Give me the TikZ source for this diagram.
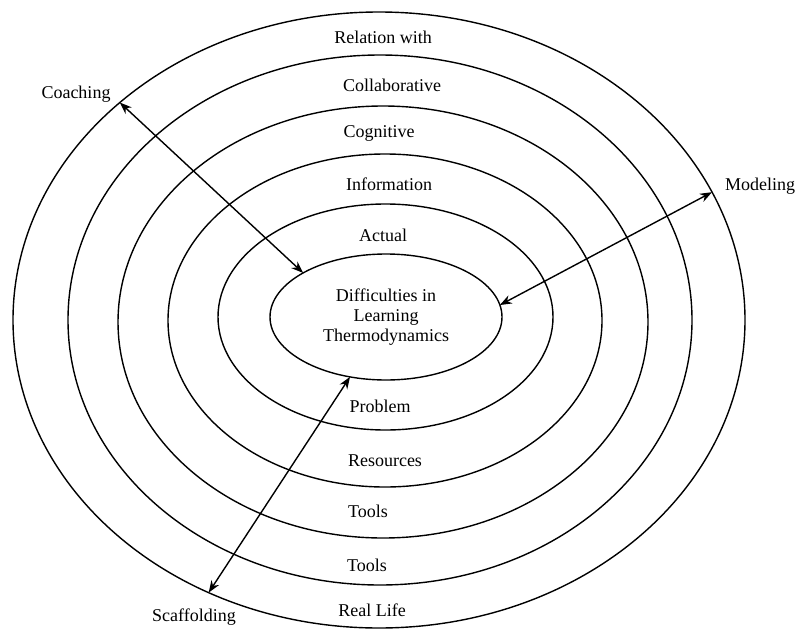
\documentclass[tikz,border=0pt]{standalone}
\usepackage{fontspec}
\setmainfont{Liberation Serif}
\usetikzlibrary{shapes.geometric,arrows.meta}
\begin{document}
\begin{tikzpicture}[x=1pt,y=-1pt,
  ring/.style={draw, ellipse, line width=1.4pt, inner sep=0pt, outer sep=0pt},
  lbl/.style={font=\fontsize{18}{20}\selectfont, inner sep=0pt},
  dbl/.style={line width=1.4pt, {Stealth[length=12pt,width=9pt]}-{Stealth[length=12pt,width=9pt]}}]
\useasboundingbox (0,0) rectangle (797,629);
\node[ring, minimum width=732pt, minimum height=616pt] (e6) at (379,320) {};
\node[ring, minimum width=624pt, minimum height=530pt] (e5) at (380,320) {};
\node[ring, minimum width=530pt, minimum height=432pt] (e4) at (383,322) {};
\node[ring, minimum width=434pt, minimum height=333pt] (e3) at (385,320.5) {};
\node[ring, minimum width=335pt, minimum height=226pt] (e2) at (385.5,317) {};
\node[ring, minimum width=232pt, minimum height=126pt, align=center,
      font=\fontsize{18}{20}\selectfont] (e1) at (386,317) {Difficulties in\\Learning\\Thermodynamics};
% ring labels
\node[lbl] (t1) at (383,37) {Relation with};
\node[lbl] (t2) at (392,85) {Collaborative};
\node[lbl] (t3) at (379,133) {Cognitive};
\node[lbl] (t4) at (389,184) {Information};
\node[lbl] (t5) at (383,235) {Actual};
\node[lbl] (b1) at (380,406) {Problem};
\node[lbl] (b2) at (385,461) {Resources};
\node[lbl] (b3) at (368,511) {Tools};
\node[lbl] (b4) at (367,565) {Tools};
\node[lbl] (b5) at (372,610) {Real Life};
% outer labels
\node[lbl] (coach) at (76,94) {Coaching};
\node[lbl] (model) at (760,186) {Modeling};
\node[lbl] (scaf) at (194,617) {Scaffolding};
% arrows
\draw[dbl] (e6.140.6) -- (e1.152.7);
\draw[dbl] (e6.21.7) -- (e1.6.3);
\draw[dbl] (e6.238) -- (e1.239);
\end{tikzpicture}
\end{document}
